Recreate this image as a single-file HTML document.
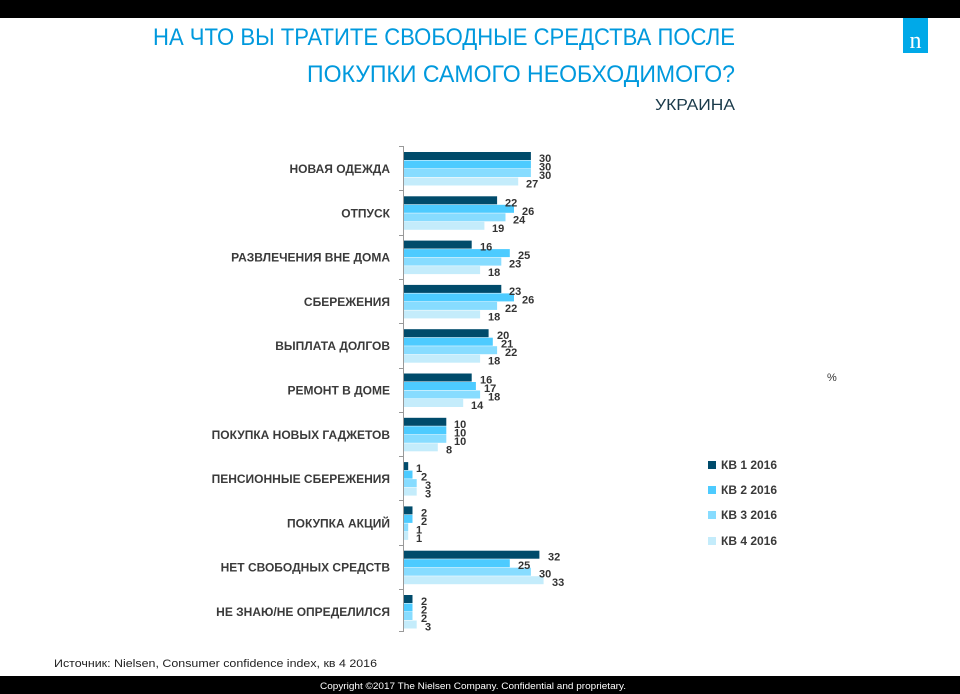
<!DOCTYPE html>
<html><head><meta charset="utf-8"><style>
html,body{margin:0;padding:0;background:#fff}
svg{display:block}
text{font-family:"Liberation Sans","DejaVu Sans",sans-serif}
.c{font-size:12px;font-weight:bold;fill:#3a3a3a;text-anchor:end}
.v{font-size:11px;font-weight:bold;fill:#333}
.a{fill:#004b6b}.b{fill:#4dcbff}.d{fill:#87dcff}.e{fill:#c4ecfb}
</style></head><body>
<svg width="960" height="694" viewBox="0 0 960 694" xmlns="http://www.w3.org/2000/svg">
<rect x="0" y="0" width="960" height="18" fill="#000"/>
<rect x="903" y="18" width="25" height="35" fill="#00a9e8"/>
<text x="915.5" y="48" font-size="24" fill="#fff" text-anchor="middle" style="font-family:'Liberation Serif',serif">n</text>
<text x="735" y="45" font-size="24" fill="#0099dd" text-anchor="end" textLength="582" lengthAdjust="spacingAndGlyphs">НА ЧТО ВЫ ТРАТИТЕ СВОБОДНЫЕ СРЕДСТВА ПОСЛЕ</text>
<text x="735" y="82" font-size="24" fill="#0099dd" text-anchor="end" textLength="428" lengthAdjust="spacingAndGlyphs">ПОКУПКИ САМОГО НЕОБХОДИМОГО?</text>
<text x="735" y="110" font-size="16" fill="#1a3a4a" text-anchor="end" textLength="80" lengthAdjust="spacingAndGlyphs">УКРАИНА</text>

<line x1="403.5" y1="146" x2="403.5" y2="632" stroke="#999" stroke-width="1"/>
<g stroke="#999" stroke-width="1">
<line x1="399" y1="146.5" x2="403" y2="146.5"/><line x1="399" y1="190.5" x2="403" y2="190.5"/><line x1="399" y1="235.5" x2="403" y2="235.5"/><line x1="399" y1="279.5" x2="403" y2="279.5"/><line x1="399" y1="323.5" x2="403" y2="323.5"/><line x1="399" y1="368.5" x2="403" y2="368.5"/><line x1="399" y1="412.5" x2="403" y2="412.5"/><line x1="399" y1="456.5" x2="403" y2="456.5"/><line x1="399" y1="500.5" x2="403" y2="500.5"/><line x1="399" y1="545.5" x2="403" y2="545.5"/><line x1="399" y1="589.5" x2="403" y2="589.5"/><line x1="399" y1="631.5" x2="403" y2="631.5"/>
</g>

<g transform="translate(0,152)">
<text class="c" x="390" y="21">НОВАЯ ОДЕЖДА</text>
<rect class="a" x="404" y="0" width="126.9" height="8"/><rect class="b" x="404" y="8.5" width="126.9" height="8"/><rect class="d" x="404" y="17" width="126.9" height="8"/><rect class="e" x="404" y="25.5" width="114.2" height="8"/>
<text class="v" x="539" y="10">30</text><text class="v" x="539" y="18.5">30</text><text class="v" x="539" y="27">30</text><text class="v" x="526" y="35.5">27</text>
</g>
<g transform="translate(0,196.3)">
<text class="c" x="390" y="21">ОТПУСК</text>
<rect class="a" x="404" y="0" width="93.1" height="8"/><rect class="b" x="404" y="8.5" width="110" height="8"/><rect class="d" x="404" y="17" width="101.5" height="8"/><rect class="e" x="404" y="25.5" width="80.4" height="8"/>
<text class="v" x="505" y="10">22</text><text class="v" x="522" y="18.5">26</text><text class="v" x="513" y="27">24</text><text class="v" x="492" y="35.5">19</text>
</g>
<g transform="translate(0,240.6)">
<text class="c" x="390" y="21">РАЗВЛЕЧЕНИЯ ВНЕ ДОМА</text>
<rect class="a" x="404" y="0" width="67.7" height="8"/><rect class="b" x="404" y="8.5" width="105.8" height="8"/><rect class="d" x="404" y="17" width="97.3" height="8"/><rect class="e" x="404" y="25.5" width="76.1" height="8"/>
<text class="v" x="480" y="10">16</text><text class="v" x="518" y="18.5">25</text><text class="v" x="509" y="27">23</text><text class="v" x="488" y="35.5">18</text>
</g>
<g transform="translate(0,284.9)">
<text class="c" x="390" y="21">СБЕРЕЖЕНИЯ</text>
<rect class="a" x="404" y="0" width="97.3" height="8"/><rect class="b" x="404" y="8.5" width="110" height="8"/><rect class="d" x="404" y="17" width="93.1" height="8"/><rect class="e" x="404" y="25.5" width="76.1" height="8"/>
<text class="v" x="509" y="10">23</text><text class="v" x="522" y="18.5">26</text><text class="v" x="505" y="27">22</text><text class="v" x="488" y="35.5">18</text>
</g>
<g transform="translate(0,329.2)">
<text class="c" x="390" y="21">ВЫПЛАТА ДОЛГОВ</text>
<rect class="a" x="404" y="0" width="84.6" height="8"/><rect class="b" x="404" y="8.5" width="88.8" height="8"/><rect class="d" x="404" y="17" width="93.1" height="8"/><rect class="e" x="404" y="25.5" width="76.1" height="8"/>
<text class="v" x="497" y="10">20</text><text class="v" x="501" y="18.5">21</text><text class="v" x="505" y="27">22</text><text class="v" x="488" y="35.5">18</text>
</g>
<g transform="translate(0,373.5)">
<text class="c" x="390" y="21">РЕМОНТ В ДОМЕ</text>
<rect class="a" x="404" y="0" width="67.7" height="8"/><rect class="b" x="404" y="8.5" width="71.9" height="8"/><rect class="d" x="404" y="17" width="76.1" height="8"/><rect class="e" x="404" y="25.5" width="59.2" height="8"/>
<text class="v" x="480" y="10">16</text><text class="v" x="484" y="18.5">17</text><text class="v" x="488" y="27">18</text><text class="v" x="471" y="35.5">14</text>
</g>
<g transform="translate(0,417.8)">
<text class="c" x="390" y="21">ПОКУПКА НОВЫХ ГАДЖЕТОВ</text>
<rect class="a" x="404" y="0" width="42.3" height="8"/><rect class="b" x="404" y="8.5" width="42.3" height="8"/><rect class="d" x="404" y="17" width="42.3" height="8"/><rect class="e" x="404" y="25.5" width="33.8" height="8"/>
<text class="v" x="454" y="10">10</text><text class="v" x="454" y="18.5">10</text><text class="v" x="454" y="27">10</text><text class="v" x="446" y="35.5">8</text>
</g>
<g transform="translate(0,462.1)">
<text class="c" x="390" y="21">ПЕНСИОННЫЕ СБЕРЕЖЕНИЯ</text>
<rect class="a" x="404" y="0" width="4.2" height="8"/><rect class="b" x="404" y="8.5" width="8.5" height="8"/><rect class="d" x="404" y="17" width="12.7" height="8"/><rect class="e" x="404" y="25.5" width="12.7" height="8"/>
<text class="v" x="416" y="10">1</text><text class="v" x="421" y="18.5">2</text><text class="v" x="425" y="27">3</text><text class="v" x="425" y="35.5">3</text>
</g>
<g transform="translate(0,506.4)">
<text class="c" x="390" y="21">ПОКУПКА АКЦИЙ</text>
<rect class="a" x="404" y="0" width="8.5" height="8"/><rect class="b" x="404" y="8.5" width="8.5" height="8"/><rect class="d" x="404" y="17" width="4.2" height="8"/><rect class="e" x="404" y="25.5" width="4.2" height="8"/>
<text class="v" x="421" y="10">2</text><text class="v" x="421" y="18.5">2</text><text class="v" x="416" y="27">1</text><text class="v" x="416" y="35.5">1</text>
</g>
<g transform="translate(0,550.7)">
<text class="c" x="390" y="21">НЕТ СВОБОДНЫХ СРЕДСТВ</text>
<rect class="a" x="404" y="0" width="135.4" height="8"/><rect class="b" x="404" y="8.5" width="105.8" height="8"/><rect class="d" x="404" y="17" width="126.9" height="8"/><rect class="e" x="404" y="25.5" width="139.6" height="8"/>
<text class="v" x="548" y="10">32</text><text class="v" x="518" y="18.5">25</text><text class="v" x="539" y="27">30</text><text class="v" x="552" y="35.5">33</text>
</g>
<g transform="translate(0,595)">
<text class="c" x="390" y="21">НЕ ЗНАЮ/НЕ ОПРЕДЕЛИЛСЯ</text>
<rect class="a" x="404" y="0" width="8.5" height="8"/><rect class="b" x="404" y="8.5" width="8.5" height="8"/><rect class="d" x="404" y="17" width="8.5" height="8"/><rect class="e" x="404" y="25.5" width="12.7" height="8"/>
<text class="v" x="421" y="10">2</text><text class="v" x="421" y="18.5">2</text><text class="v" x="421" y="27">2</text><text class="v" x="425" y="35.5">3</text>
</g>

<text x="827" y="381" font-size="11" fill="#333">%</text>
<g font-size="12" font-weight="bold" fill="#3a3a3a">
<rect class="a" x="708" y="461" width="8" height="8"/><text x="721" y="469">КВ 1 2016</text>
<rect class="b" x="708" y="486" width="8" height="8"/><text x="721" y="494">КВ 2 2016</text>
<rect class="d" x="708" y="511" width="8" height="8"/><text x="721" y="519">КВ 3 2016</text>
<rect class="e" x="708" y="537" width="8" height="8"/><text x="721" y="545">КВ 4 2016</text>
</g>

<text x="54" y="667" font-size="11" fill="#222" textLength="323" lengthAdjust="spacingAndGlyphs">Источник:  Nielsen, Consumer confidence index, кв 4 2016</text>
<rect x="0" y="676" width="960" height="18" fill="#000"/>
<text x="320" y="689" font-size="9" fill="#fff" textLength="306" lengthAdjust="spacingAndGlyphs">Copyright ©2017 The Nielsen Company. Confidential and proprietary.</text>
</svg>
</body></html>
